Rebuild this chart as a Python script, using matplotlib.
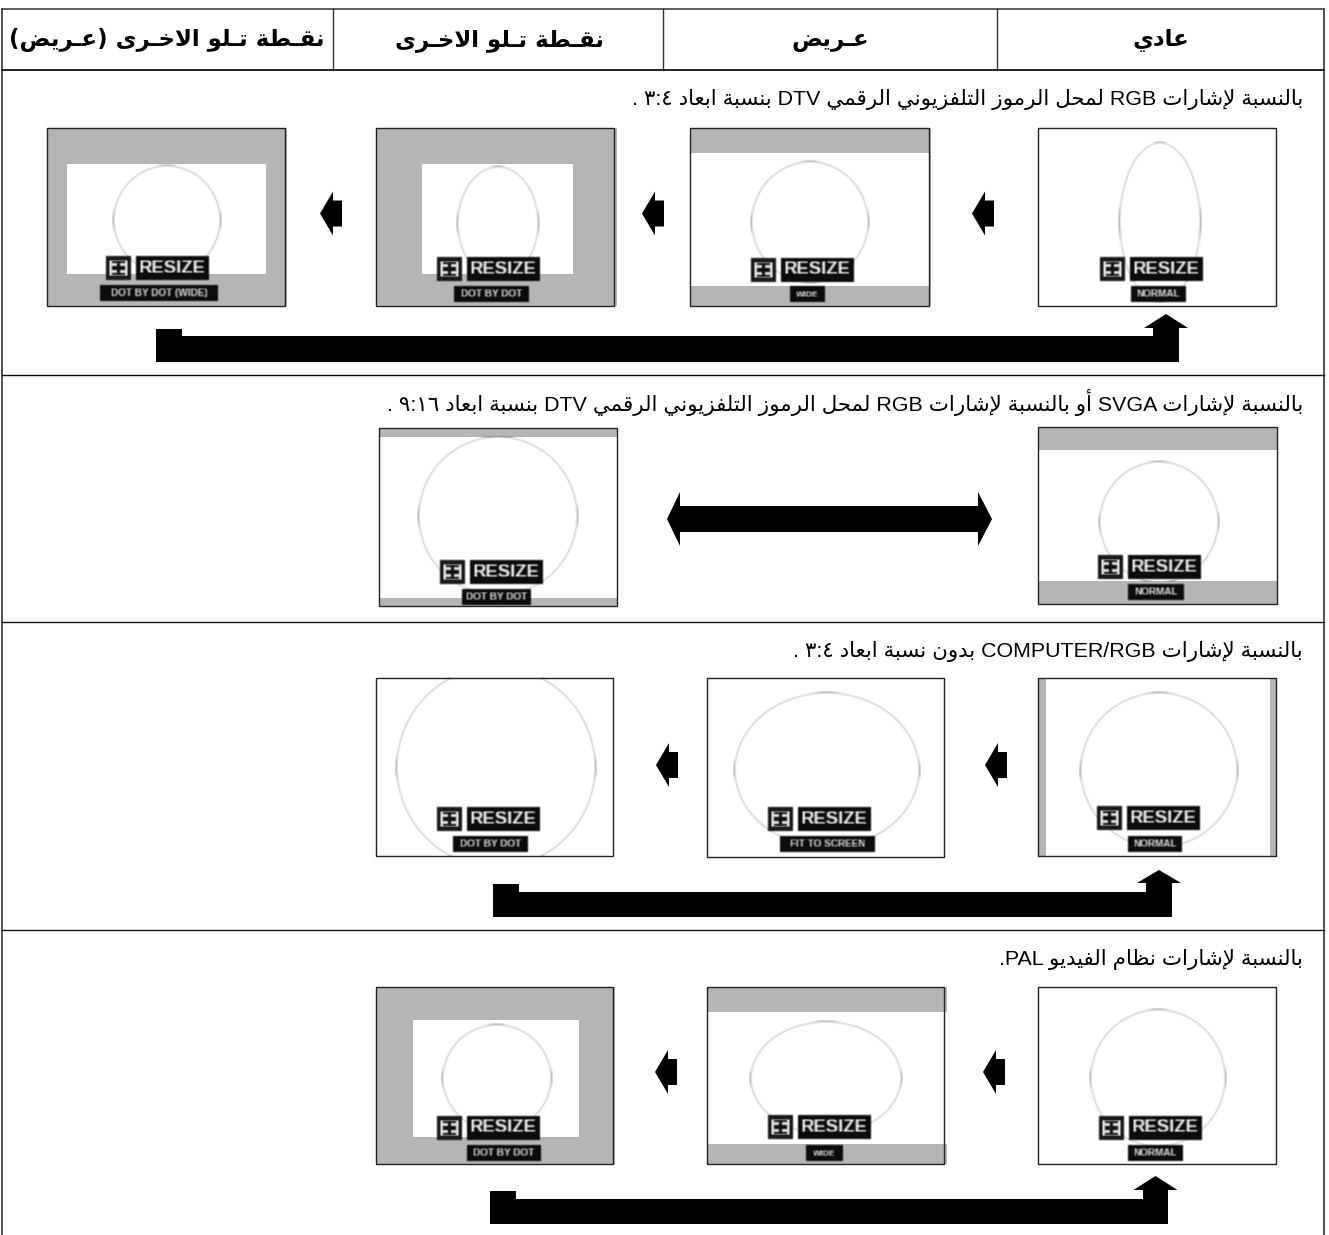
import re
import numpy as np
import matplotlib
matplotlib.use("Agg")
import matplotlib.pyplot as plt
from matplotlib.patches import Rectangle, Ellipse, Polygon

W, H = 1329, 1235
GRAY = "#b5b5b5"

# table lines, in picture pixels
col_lines = [333, 663, 997]
row_lines = [70, 375, 622, 930]
table_top = 9
table_left = 2
table_right = 1324

headers = ["عادي", "عـريض", "نقـطة تـلو الاخـرى", "نقـطة تـلو الاخـرى (عـريض)"]
header_x = [1161, 830, 499, 167]

captions = [
    "بالنسبة لإشارات RGB لمحل الرموز التلفزيوني الرقمي DTV بنسبة ابعاد ٣:٤ .",
    "بالنسبة لإشارات SVGA أو بالنسبة لإشارات RGB لمحل الرموز التلفزيوني الرقمي DTV بنسبة ابعاد ٩:١٦ .",
    "بالنسبة لإشارات COMPUTER/RGB بدون نسبة ابعاد ٣:٤ .",
    "بالنسبة لإشارات نظام الفيديو PAL.",
]
caption_y = [99, 403, 651, 960]

# one screen: box, gray extent, white part, ellipse, osd position, sub label
screen_box = [
    (1038, 128, 1276, 306), (690, 128, 929, 306), (376, 128, 614, 306), (47, 128, 285, 306),
    (1038, 427, 1277, 604), (379, 428, 617, 606),
    (1038, 678, 1276, 856), (707, 678, 944, 857), (376, 678, 613, 856),
    (1038, 987, 1276, 1164), (707, 987, 944, 1164), (376, 987, 613, 1164),
]
screen_gray = [
    None, (690, 128, 931, 306), (376, 128, 617, 306), (47, 128, 287, 306),
    (1038, 427, 1277, 604), (379, 428, 618, 606),
    (1038, 678, 1277, 856), None, None,
    None, (707, 987, 947, 1164), (376, 987, 615, 1164),
]
screen_white = [
    None, (690, 153, 929, 286), (422, 164, 573, 274), (67, 164, 266, 274),
    (1038, 450, 1277, 581), (379, 437, 618, 598),
    (1046, 678, 1270, 856), None, None,
    None, (707, 1012, 947, 1144), (413, 1020, 579, 1137),
]
screen_ellipse = [
    (1160, 222, 40, 79), (810, 222, 58, 60), (498, 223, 40, 56), (167, 220, 53, 54),
    (1159, 522, 59, 60), (498, 516, 79, 79),
    (1159, 770, 78, 77), (827, 770, 92, 77), (496, 767, 99, 100),
    (1158, 1078, 67, 68), (826, 1078, 75, 56), (497, 1078, 54, 53),
]
osd_x = [1100, 751, 437, 106, 1098, 440, 1097, 768, 437, 1099, 768, 437]
osd_y = [268.5, 269.5, 269, 268, 567, 572, 818, 819, 819, 1127.5, 1127, 1127.5]
sub_labels = [
    "NORMAL", "WIDE", "DOT BY DOT", "DOT BY DOT (WIDE)",
    "NORMAL", "DOT BY DOT",
    "NORMAL", "FIT TO SCREEN", "DOT BY DOT",
    "NORMAL", "WIDE", "DOT BY DOT",
]
sub_x0 = [1131, 790, 454, 100, 1128, 462, 1128, 780, 453, 1128, 806, 467]
sub_x1 = [1186, 825, 529, 218, 1184, 531, 1182, 875, 528, 1183, 843, 541]
sub_y = [294, 294, 294, 293, 592, 597, 844, 844, 844, 1153, 1153, 1153]

# small left arrows: tip x, centre y
small_tip = [972, 642, 320, 656, 985, 655, 983]
small_y = [213.5, 213.5, 213.5, 765, 765, 1072, 1072]

# big return arrows: left x, block top, shaft top, shaft bottom, stem x0, stem x1, tip y, head y
ret_left = [156, 493, 490]
ret_block = [329, 884, 1191]
ret_top = [336, 892, 1199]
ret_bottom = [362, 917, 1224]
ret_stem0 = [1153, 1146, 1143]
ret_stem1 = [1179, 1172, 1168]
ret_tip = [314, 870, 1176]
ret_head = [328, 883, 1190]

# double arrow of row two
dbl_x = (667, 680, 978, 992)
dbl_y = (492, 506, 532, 546)

# --- arabic letters to presentation forms (isolated, final, initial, medial)
FORMS = {
    "ء": (0xFE80,), "أ": (0xFE83, 0xFE84), "إ": (0xFE87, 0xFE88), "ا": (0xFE8D, 0xFE8E),
    "ب": (0xFE8F, 0xFE90, 0xFE91, 0xFE92), "ة": (0xFE93, 0xFE94),
    "ت": (0xFE95, 0xFE96, 0xFE97, 0xFE98), "ح": (0xFEA1, 0xFEA2, 0xFEA3, 0xFEA4),
    "خ": (0xFEA5, 0xFEA6, 0xFEA7, 0xFEA8), "د": (0xFEA9, 0xFEAA), "ر": (0xFEAD, 0xFEAE),
    "ز": (0xFEAF, 0xFEB0), "س": (0xFEB1, 0xFEB2, 0xFEB3, 0xFEB4),
    "ش": (0xFEB5, 0xFEB6, 0xFEB7, 0xFEB8), "ض": (0xFEBD, 0xFEBE, 0xFEBF, 0xFEC0),
    "ط": (0xFEC1, 0xFEC2, 0xFEC3, 0xFEC4), "ظ": (0xFEC5, 0xFEC6, 0xFEC7, 0xFEC8),
    "ع": (0xFEC9, 0xFECA, 0xFECB, 0xFECC), "ف": (0xFED1, 0xFED2, 0xFED3, 0xFED4),
    "ق": (0xFED5, 0xFED6, 0xFED7, 0xFED8), "ل": (0xFEDD, 0xFEDE, 0xFEDF, 0xFEE0),
    "م": (0xFEE1, 0xFEE2, 0xFEE3, 0xFEE4), "ن": (0xFEE5, 0xFEE6, 0xFEE7, 0xFEE8),
    "و": (0xFEED, 0xFEEE), "ى": (0xFEEF, 0xFEF0), "ي": (0xFEF1, 0xFEF2, 0xFEF3, 0xFEF4),
}
LAM_ALEF = {"ا": (0xFEFB, 0xFEFC), "إ": (0xFEF9, 0xFEFA), "أ": (0xFEF7, 0xFEF8)}


def joins_next(c):
    return c == "\u0640" or (c in FORMS and len(FORMS[c]) == 4)


def joins_prev(c):
    return c == "\u0640" or (c in FORMS and len(FORMS[c]) >= 2)


def shape_run(s):
    out = []
    i = 0
    while i < len(s):
        c = s[i]
        prev = s[i - 1] if i > 0 else ""
        linked = prev != "" and joins_next(prev) and joins_prev(c)
        if c == "ل" and i + 1 < len(s) and s[i + 1] in LAM_ALEF:
            out.append(chr(LAM_ALEF[s[i + 1]][1 if linked else 0]))
            i += 2
            continue
        if c not in FORMS:
            out.append({"(": ")", ")": "("}.get(c, c))
            i += 1
            continue
        nxt = s[i + 1] if i + 1 < len(s) else ""
        to_next = joins_next(c) and nxt != "" and joins_prev(nxt)
        form = FORMS[c]
        if linked and to_next:
            out.append(chr(form[3]))
        elif linked:
            out.append(chr(form[1]))
        elif to_next:
            out.append(chr(form[2]))
        else:
            out.append(chr(form[0]))
        i += 1
    return "".join(reversed(out))


def visual(s):
    # latin words and digit groups stay left to right, the rest is reversed
    parts = re.split(r"([A-Za-z/]+|[٠-٩]+:[٠-٩]+)", s)
    res = []
    for p in parts:
        if re.fullmatch(r"[A-Za-z/]+|[٠-٩]+:[٠-٩]+", p or " "):
            res.append(p)
        elif p:
            res.append(shape_run(p))
    return "".join(reversed(res))


def blur(img, dpi):
    # the on screen labels are soft in the scan
    pad = 3
    a = np.pad(img, ((pad, pad), (pad, pad), (0, 0)))
    for axis in (0, 1):
        a = (np.roll(a, 1, axis) + 2 * a + np.roll(a, -1, axis)) / 4
    return a, -pad, -pad


def soft(artist):
    artist.set_agg_filter(blur)
    return artist


def draw_screen(ax, i):
    x0, y0, x1, y1 = screen_box[i]
    cx, cy, rx, ry = screen_ellipse[i]
    ax.add_patch(Rectangle((x0, y0), x1 - x0, y1 - y0, fc="white", ec="none", zorder=2))
    if screen_gray[i] is not None:
        a, b, c, d = screen_gray[i]
        ax.add_patch(Rectangle((a, b), c - a, d - b, fc=GRAY, ec="none", zorder=2))
    if screen_white[i] is not None:
        a, b, c, d = screen_white[i]
        clip = Rectangle((a, b), c - a, d - b, fc="white", ec="none", zorder=2)
    else:
        clip = Rectangle((x0, y0), x1 - x0, y1 - y0, fc="none", ec="none", zorder=2)
    ax.add_patch(clip)
    e = Ellipse((cx, cy), 2 * rx, 2 * ry, fc="none", ec="#cccccc", lw=1.2, zorder=3)
    ax.add_patch(e)
    e.set_clip_path(clip)
    soft(e)
    ax.add_patch(Rectangle((x0, y0), x1 - x0, y1 - y0, fc="none", ec="#222222", lw=1.0, zorder=4))

    # osd: icon, RESIZE box, sub label
    ox, oy = osd_x[i], osd_y[i]
    soft(ax.add_patch(Rectangle((ox, oy - 12), 25, 24, fc="#1a1a1a", ec="none", zorder=5)))
    soft(ax.add_patch(Rectangle((ox + 3, oy - 8), 19, 16, fc="#dddddd", ec="none", zorder=6)))
    for dy, h in [(-7, 2), (-2, 4), (5, 2)]:
        soft(ax.add_patch(Rectangle((ox + 6, oy + dy), 13, h, fc="#111111", ec="none", zorder=7)))
    soft(ax.add_patch(Rectangle((ox + 11, oy - 6), 3, 12, fc="#111111", ec="none", zorder=7)))
    soft(ax.add_patch(Rectangle((ox + 30, oy - 12), 73, 24, fc="#0c0c0c", ec="none", zorder=5)))
    soft(ax.text(ox + 66.5, oy + 0.5, "RESIZE", color="#f0f0f0", ha="center", va="center", zorder=6,
                 family="Liberation Sans", weight="bold", fontsize=13.3))
    a, b = sub_x0[i], sub_x1[i]
    soft(ax.add_patch(Rectangle((a, sub_y[i] - 8), b - a, 16, fc="#0c0c0c", ec="none", zorder=5)))
    size = 7.2 if b - a > 45 else 6.2
    soft(ax.text((a + b) / 2, sub_y[i] + 0.3, sub_labels[i], color="#dddddd", ha="center", va="center",
                 zorder=6, family="Liberation Sans", weight="bold", fontsize=size))


fig = plt.figure(figsize=(W / 100, H / 100), dpi=100)
ax = fig.add_axes([0, 0, 1, 1])
ax.set_xlim(0, W)
ax.set_ylim(H, 0)
ax.axis("off")

# table frame
ax.plot([table_left, table_right], [table_top, table_top], color="#444444", lw=1.2)
ax.plot([table_left, table_left], [table_top, H], color="#333333", lw=1.2)
ax.plot([table_right, table_right], [table_top, H], color="#555555", lw=1.5)
for y in row_lines:
    ax.plot([table_left, table_right], [y, y], color="#111111", lw=1.3 if y == 70 else 1.0)
for x in col_lines:
    ax.plot([x, x], [table_top, row_lines[0]], color="#333333", lw=1.0)

for txt, x in zip(headers, header_x):
    ax.text(x, 40, visual(txt), ha="center", va="center", color="black",
            family="DejaVu Sans", weight="bold", fontsize=16.5)

for txt, y in zip(captions, caption_y):
    ax.text(1303, y, visual(txt), ha="right", va="center", color="black",
            family=["Liberation Sans", "DejaVu Sans"], fontsize=15.4)

for i in range(len(screen_box)):
    draw_screen(ax, i)

for tx, y in zip(small_tip, small_y):
    ax.add_patch(Polygon([(tx, y), (tx + 13, y - 22), (tx + 13, y - 13), (tx + 22, y - 13),
                          (tx + 22, y + 13), (tx + 13, y + 13), (tx + 13, y + 22)],
                         fc="black", ec="none", zorder=8))

for i in range(3):
    l, r0, r1 = ret_left[i], ret_stem0[i], ret_stem1[i]
    mid = (r0 + r1) / 2
    ax.add_patch(Polygon([
        (l, ret_block[i]), (l + 26, ret_block[i]), (l + 26, ret_top[i]), (r0, ret_top[i]),
        (r0, ret_head[i]), (mid - 22, ret_head[i]), (mid, ret_tip[i]),
        (mid + 22, ret_head[i]), (r1, ret_head[i]), (r1, ret_bottom[i]), (l, ret_bottom[i]),
    ], fc="black", ec="none", zorder=8))

x0, x1, x2, x3 = dbl_x
y0, y1, y2, y3 = dbl_y
ax.add_patch(Polygon([
    (x0, (y1 + y2) / 2), (x1, y0), (x1, y1), (x2, y1), (x2, y0), (x3, (y1 + y2) / 2),
    (x2, y3), (x2, y2), (x1, y2), (x1, y3),
], fc="black", ec="none", zorder=8))

fig.savefig("out.png", dpi=100)
